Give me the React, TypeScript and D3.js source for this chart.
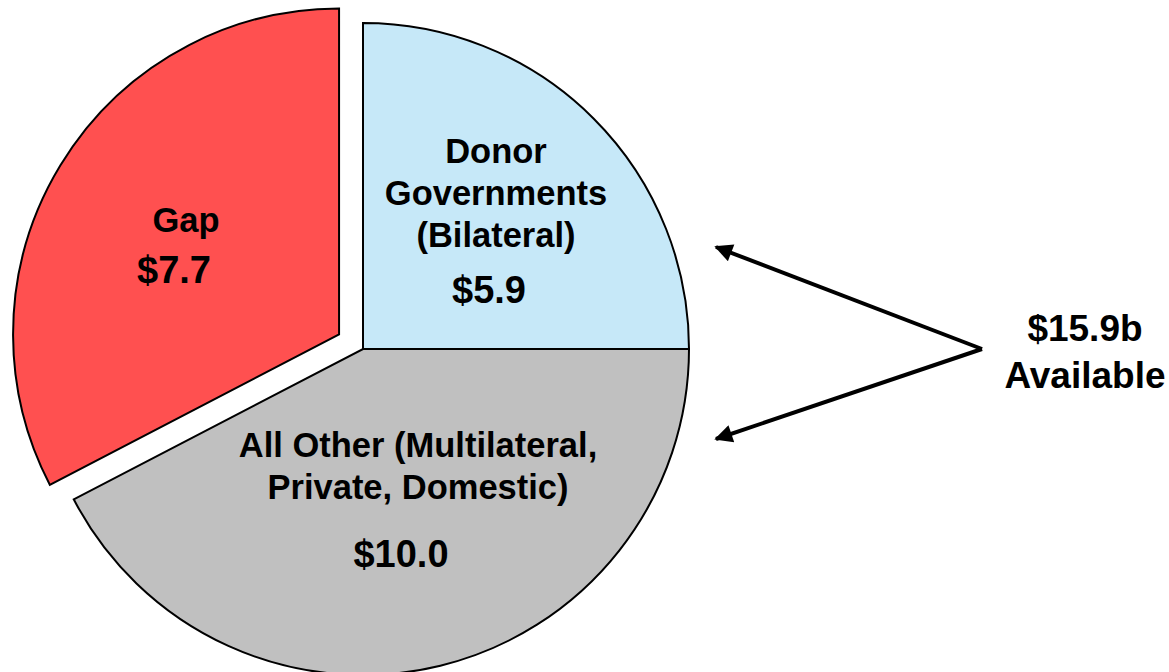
import React, { useRef, useEffect } from 'react';
import * as d3 from 'd3';

// slices in clockwise order starting at 12 o'clock
const categories = ['Donor Governments (Bilateral)', 'All Other (Multilateral, Private, Domestic)', 'Gap'];
const values = [5.9, 10.0, 7.7];
const valueLabels = ['$5.9', '$10.0', '$7.7'];
const nameLines = [['Donor', 'Governments', '(Bilateral)'], ['All Other (Multilateral,', 'Private, Domestic)'], ['Gap']];
const colors = ['#C6E8F8', '#C0C0C0', '#FF5050'];
const exploded = [false, false, true];
const availableLines = ['$15.9b', 'Available'];

const W = 1169;
const H = 672;
const cx = 363;
const cy = 349;
const radius = 326;
const explodeDist = 28;

// label anchors relative to pie centre: [x, first baseline, value baseline]
const labelPos = [
  [133, -186, -46],
  [55, 108, 218],
  [-177, -117, -66],
];

const App = () => {
  const svgRef = useRef<SVGSVGElement | null>(null);

  useEffect(() => {
    const svg = d3.select(svgRef.current);
    svg.selectAll('*').remove();

    const font = "'Liberation Sans', Arial, sans-serif";

    const pie = d3.pie<number>().sort(null).value(d => d);
    const arcs = pie(values);
    const arc = d3.arc<d3.PieArcDatum<number>>().innerRadius(0).outerRadius(radius);

    const g = svg.append('g').attr('transform', `translate(${cx},${cy})`);

    g.selectAll('path.slice')
      .data(arcs)
      .enter()
      .append('path')
      .attr('class', 'slice')
      .attr('d', arc)
      .attr('fill', (d, i) => colors[i])
      .attr('stroke', '#000')
      .attr('stroke-width', 2)
      .attr('stroke-linejoin', 'miter')
      .attr('transform', (d, i) => {
        if (!exploded[i]) return null;
        const a = (d.startAngle + d.endAngle) / 2;
        return `translate(${Math.sin(a) * explodeDist},${-Math.cos(a) * explodeDist})`;
      });

    // slice labels
    arcs.forEach((d, i) => {
      const [lx, ly, vy] = labelPos[i];
      const t = g.append('g').attr('font-family', font).attr('font-weight', 'bold')
        .attr('text-anchor', 'middle').attr('fill', '#000');
      nameLines[i].forEach((line, j) => {
        t.append('text').attr('x', lx).attr('y', ly + j * 42).attr('font-size', 34.5).text(line);
      });
      t.append('text').attr('x', lx + (i === 0 ? -7 : i === 1 ? -17 : -12)).attr('y', vy)
        .attr('font-size', 38).text(valueLabels[i]);
    });

    // arrows pointing back to the available slices
    const defs = svg.append('defs');
    defs.append('marker')
      .attr('id', 'arrowHead')
      .attr('viewBox', '0 0 10 10')
      .attr('refX', 9)
      .attr('refY', 5)
      .attr('markerWidth', 5.5)
      .attr('markerHeight', 4.5)
      .attr('markerUnits', 'strokeWidth')
      .attr('orient', 'auto')
      .append('path')
      .attr('d', 'M0,0 L10,5 L0,10 Z')
      .attr('fill', '#000');

    const apex = [982, 349];
    const tips = [[716, 247], [716, 439]];
    tips.forEach(tp => {
      svg.append('line')
        .attr('x1', apex[0]).attr('y1', apex[1])
        .attr('x2', tp[0]).attr('y2', tp[1])
        .attr('stroke', '#000')
        .attr('stroke-width', 4)
        .attr('marker-end', 'url(#arrowHead)');
    });

    const av = svg.append('g').attr('font-family', font).attr('font-weight', 'bold')
      .attr('font-size', 37).attr('text-anchor', 'middle').attr('fill', '#000');
    availableLines.forEach((line, j) => {
      av.append('text').attr('x', 1085).attr('y', 341 + j * 47).text(line);
    });
  }, []);

  return (
    <div style={{ position: 'absolute', left: 0, top: 0, width: W, height: H, background: '#fff' }}>
      <svg ref={svgRef} width={W} height={H} style={{ display: 'block' }}></svg>
    </div>
  );
};

export default App;
